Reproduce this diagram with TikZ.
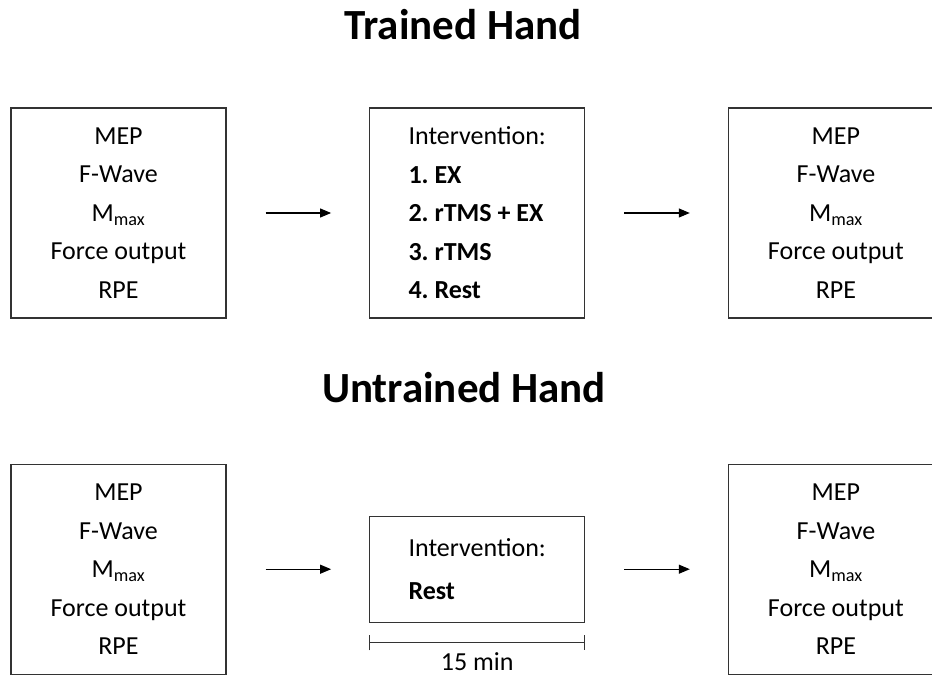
\documentclass[tikz,border=0pt]{standalone}
\usepackage{fontspec}
\setmainfont{Carlito}
\frenchspacing
\usetikzlibrary{positioning, arrows.meta}
\tikzset{
x=1pt, y=-1pt, % one unit is one pixel of the layout
measure/.style={draw=black!80, line width=1.2pt, minimum width=215pt, minimum height=210pt, align=center, font=\fontsize{26pt}{38.5pt}\selectfont}, % boxes of the measured values
session/.style={measure, align=left}, % box of the intervention
flow/.style={-{Triangle[length=11pt, width=9pt]}, line width=1.1pt, shorten <=39pt, shorten >=38pt}, % arrows between the boxes
heading/.style={font=\fontsize{43pt}{50pt}\selectfont\bfseries}, % titles of the two rows
}

\begin{document}
\begin{tikzpicture}
                \useasboundingbox (0,0) rectangle (932,676);
                \clip (0,0) rectangle (932,676);
                % trained hand
                \node[heading] (title1) at (463,25) {Trained Hand};
                \node[measure] (pre1) at (118.5,213) {MEP\\F-Wave\\M\textsubscript{max}\\Force output\\RPE};
                \node[session, right=142.5pt of pre1] (int1) {Intervention:\\\textbf{1. EX}\\\textbf{2. rTMS + EX}\\\textbf{3. rTMS}\\\textbf{4. Rest}};
                \node[measure, right=142.5pt of int1] (post1) {MEP\\F-Wave\\M\textsubscript{max}\\Force output\\RPE};
                % untrained hand
                \node[heading] (title2) at (464,388) {Untrained Hand};
                \node[measure, below=145pt of pre1] (pre2) {MEP\\F-Wave\\M\textsubscript{max}\\Force output\\RPE};
                \node[session, right=142.5pt of pre2, minimum height=106pt, font=\fontsize{26pt}{43pt}\selectfont] (int2) {Intervention:\\\textbf{Rest}};
                \node[measure, right=142.5pt of int2] (post2) {MEP\\F-Wave\\M\textsubscript{max}\\Force output\\RPE};
                \draw[flow] (pre1) -- (int1);
                \draw[flow] (int1) -- (post1);
                \draw[flow] (pre2) -- (int2);
                \draw[flow] (int2) -- (post2);
                % duration of the rest
                \coordinate[below=20pt of int2.south west] (bar1);
                \coordinate[below=20pt of int2.south east] (bar2);
                \draw[{Bar[width=15pt]}-{Bar[width=15pt]}, draw=black!80, line width=1.1pt] (bar1) -- (bar2);
                \node[below=6pt of int2.south, yshift=-20pt, font=\fontsize{26pt}{30pt}\selectfont] (time) {15 min};
\end{tikzpicture}
\end{document}
